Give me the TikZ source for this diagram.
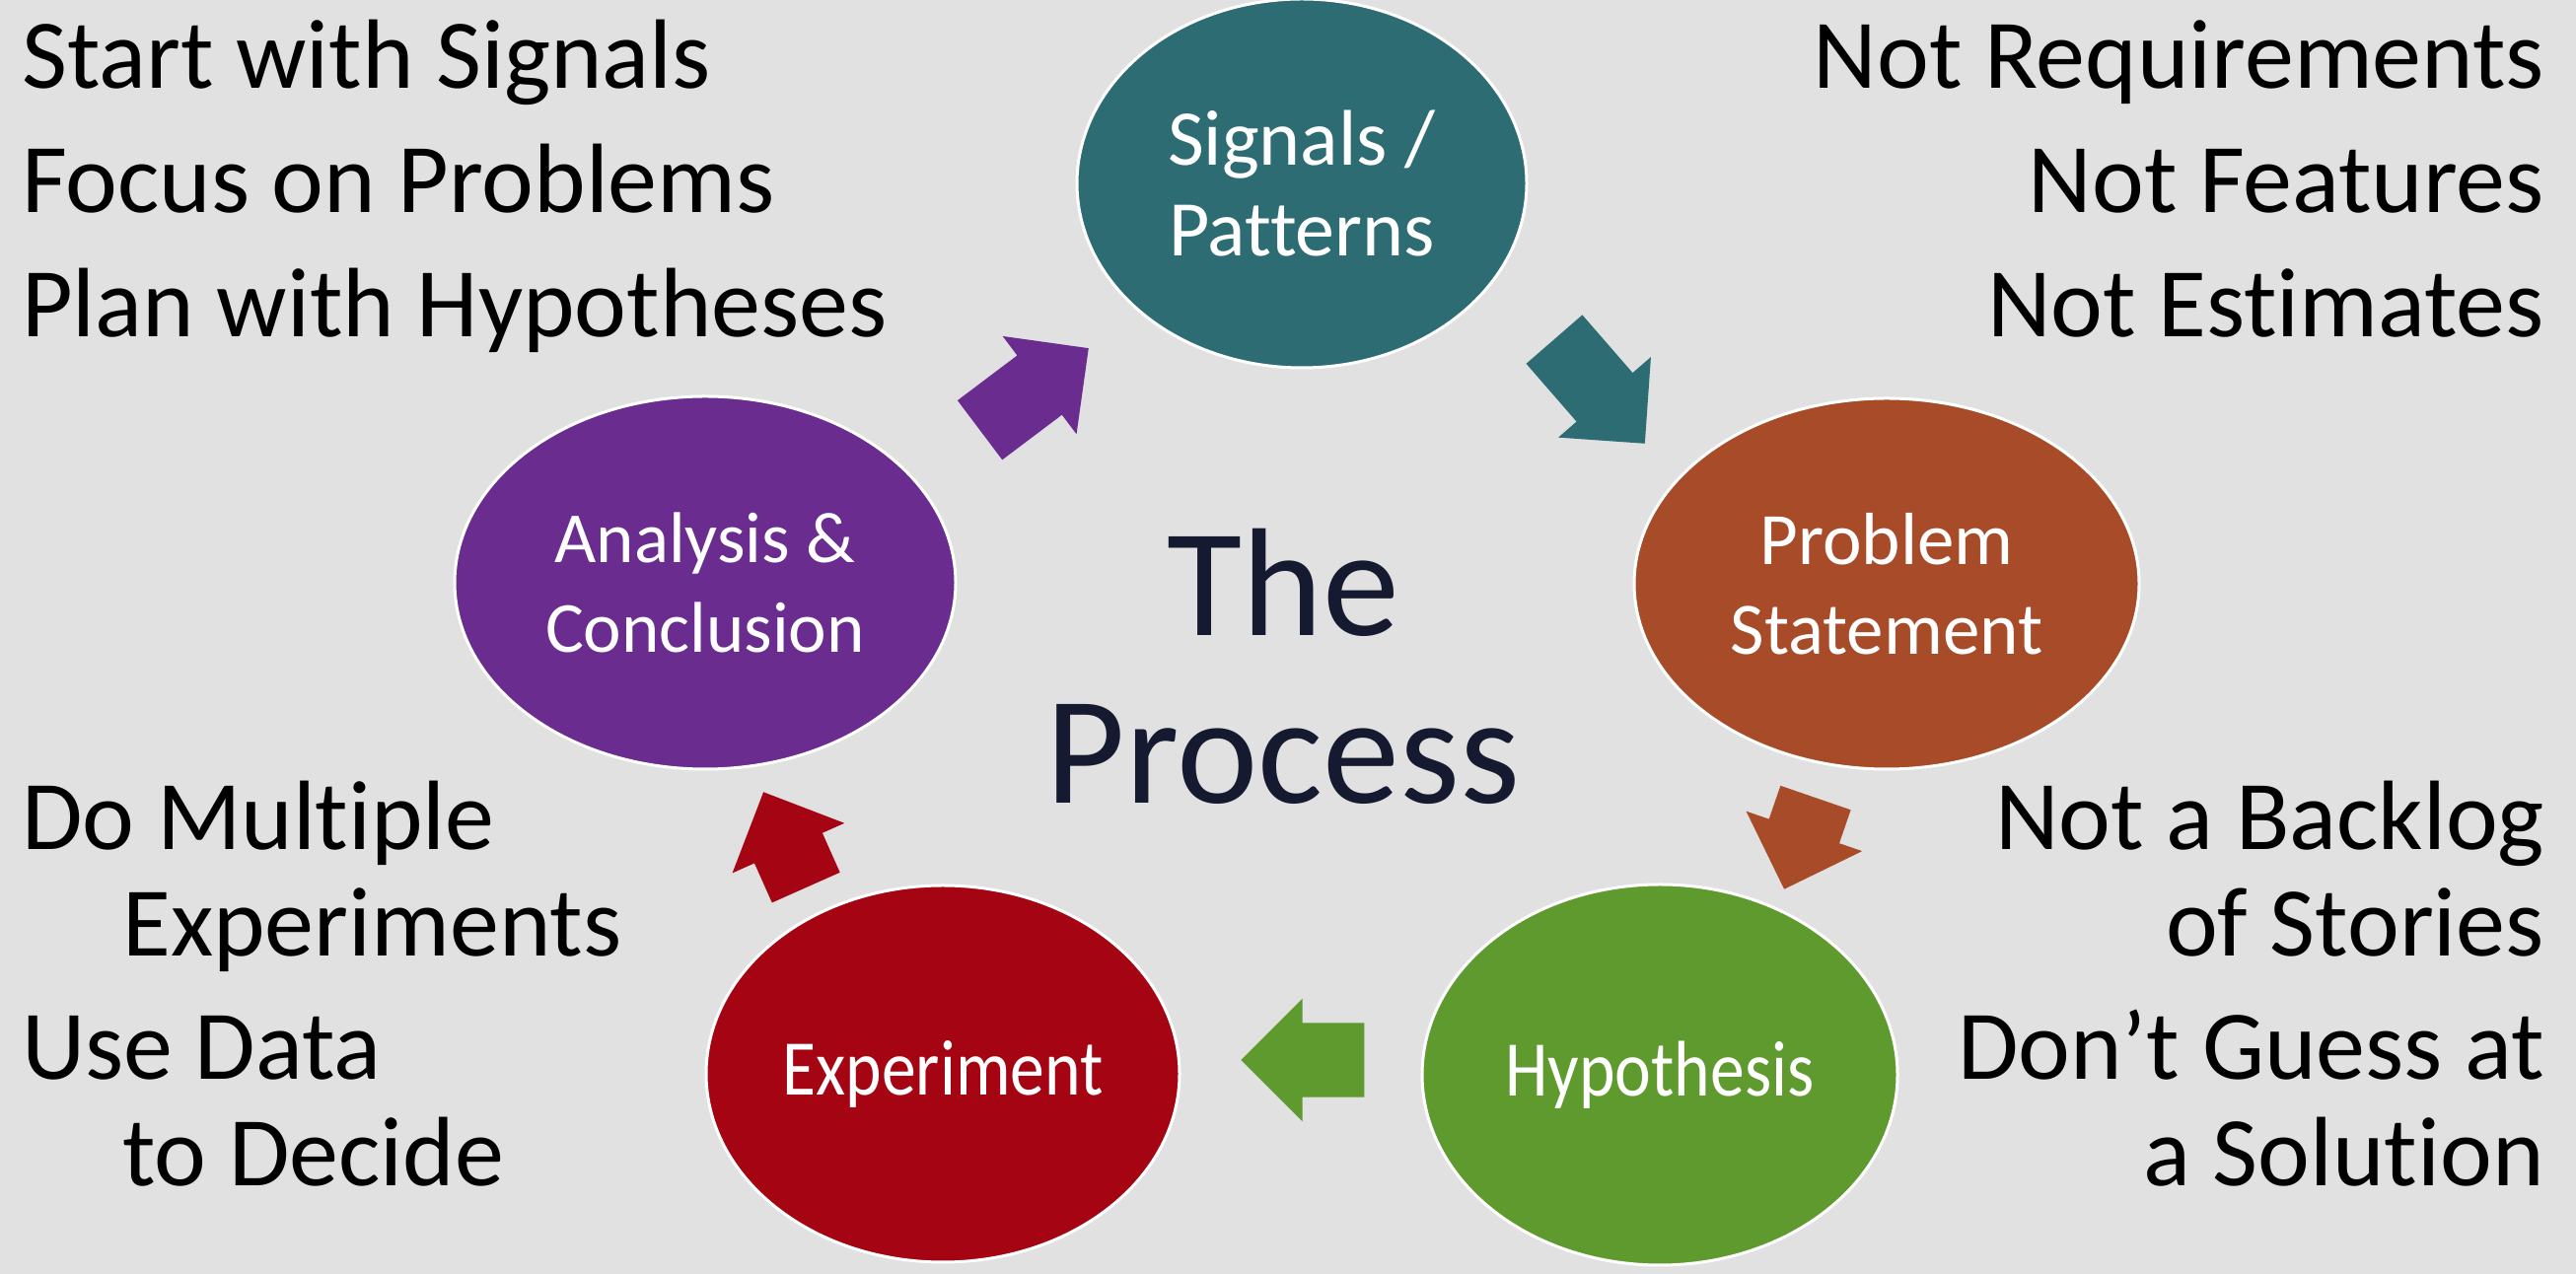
\documentclass[tikz,border=0pt]{standalone}
\usepackage{fontspec}
\setmainfont{Carlito}[Ligatures={TeX,NoCommon}]
\newfontfamily\narrowfont{Carlito}[FakeStretch=0.87, Ligatures=NoCommon]
\usetikzlibrary{shapes.geometric, shapes.arrows}

\definecolor{bggrey}{HTML}{E1E1E1}
\definecolor{signalteal}{HTML}{2E6C74}
\definecolor{problemrust}{HTML}{A74B28}
\definecolor{hypogreen}{HTML}{5E9A2E}
\definecolor{exptred}{HTML}{A50512}
\definecolor{analysispurple}{HTML}{6A2C8E}
\definecolor{titlenavy}{HTML}{161A30}

\begin{document}
\begin{tikzpicture}[x=1pt, y=1pt,
    stage/.style={ellipse, draw=white, line width=3pt, text=white, align=center, inner sep=0pt},
    flow/.style={single arrow, draw=none, inner sep=0pt, text height=37.5pt, text depth=37.5pt,
                 single arrow head extend=24.5pt, single arrow tip angle=90, anchor=tip},
    note/.style={text=black, inner sep=0pt, font=\fontsize{100}{126}\selectfont}]

    % Background
    \fill[bggrey] (0,0) rectangle (2612,1292);
    \useasboundingbox (0,0) rectangle (2612,1292);

    % Nodes
    \node [stage, fill=signalteal, minimum width=456pt, minimum height=374pt, font=\fontsize{80}{92}\selectfont] (signals) at (1320,1106) {Signals /\\Patterns};
    \node [stage, fill=problemrust, minimum width=512pt, minimum height=376pt, font=\fontsize{75}{91}\selectfont] (problem) at (1913,700) {Problem\\Statement};
    \node [stage, fill=hypogreen, minimum width=482pt, minimum height=386pt, font=\narrowfont\fontsize{80}{92}\selectfont] (hypothesis) at (1683,202) {Hypothesis};
    \node [stage, fill=exptred, minimum width=480pt, minimum height=382pt, font=\narrowfont\fontsize{80}{92}\selectfont] (experiment) at (956,203) {Experiment};
    \node [stage, fill=analysispurple, minimum width=508pt, minimum height=378pt, font=\fontsize{73}{91}\selectfont] (analysis) at (715,701) {Analysis \&\\Conclusion};

    \node [text=titlenavy, align=center, inner sep=0pt, font=\fontsize{156}{170}\selectfont] (title) at (1301,616) {The\\Process};

    % Side notes (base = last line)
    \node [note, align=left, anchor=base west] (startnotes) at (22,950) {Start with Signals\\Focus on Problems\\Plan with Hypotheses};
    \node [note, align=right, anchor=base east] (notnotes) at (2580,950) {Not Requirements\\Not Features\\Not Estimates};
    \node [note, align=left, anchor=base west, font=\fontsize{100}{108}\selectfont] (multiple) at (22,322) {Do Multiple\\\hspace*{102pt}Experiments};
    \node [note, align=left, anchor=base west, font=\fontsize{100}{108}\selectfont] (usedata) at (22,89) {Use Data\\\hspace*{102pt}to Decide};
    \node [note, align=right, anchor=base east, font=\fontsize{100}{108}\selectfont] (backlog) at (2580,322) {Not a Backlog\\of Stories};
    \node [note, align=right, anchor=base east, font=\fontsize{100}{108}\selectfont] (guess) at (2580,89) {Don’t Guess at\\a Solution};

    % Arrows
    \node [flow, fill=signalteal, minimum height=140pt, rotate=-49] (signals_to_problem) at (1668,842) {};
    \node [flow, fill=problemrust, minimum height=98pt, rotate=-109] (problem_to_hypothesis) at (1809,390) {};
    \node [flow, fill=hypogreen, minimum height=125pt, rotate=180] (hypothesis_to_experiment) at (1258,217) {};
    \node [flow, fill=exptred, minimum height=106pt, rotate=114] (experiment_to_analysis) at (774,489) {};
    \node [flow, fill=analysispurple, minimum height=138pt, rotate=37] (analysis_to_signals) at (1104,939) {};
\end{tikzpicture}
\end{document}
